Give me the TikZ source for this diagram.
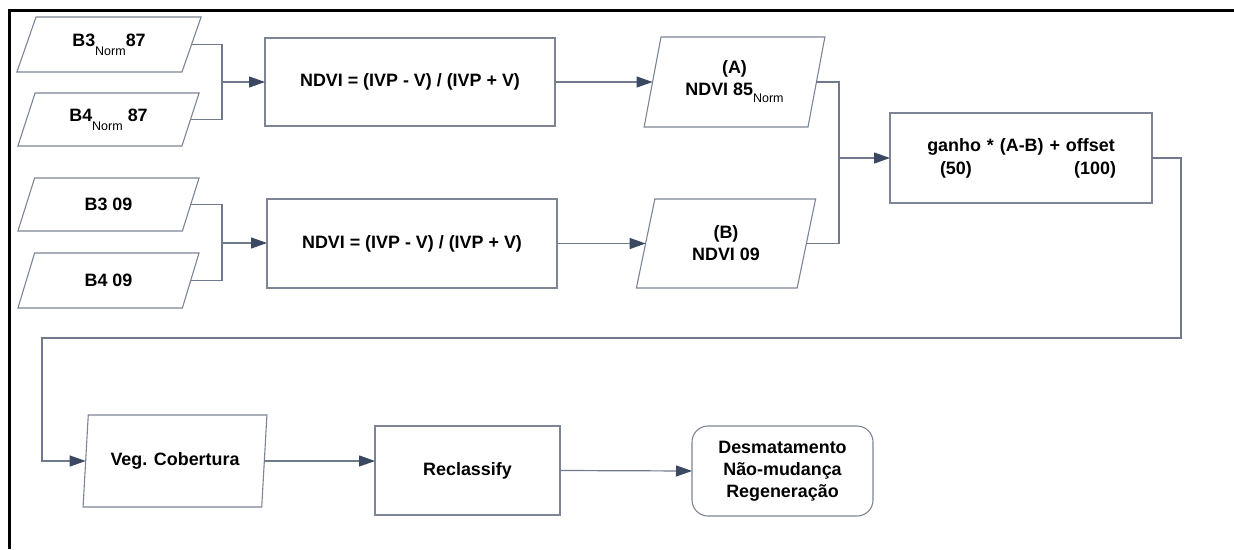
\documentclass[tikz,border=0pt]{standalone}
\usepackage{fontspec}
\setmainfont{Liberation Sans}
\usetikzlibrary{shapes.geometric,arrows.meta}
\definecolor{shapec}{RGB}{125,133,148}
\definecolor{linec}{RGB}{112,122,140}
\definecolor{tipc}{RGB}{58,72,98}
\newcommand\nrmsub[2][-8pt]{\raisebox{#1}{\fontsize{12.5}{12.5}\selectfont\mdseries #2}}
\begin{document}
\begin{tikzpicture}[x=1pt,y=-1pt,
  every node/.style={font=\fontsize{17.9}{22}\selectfont\bfseries, inner sep=0pt, outer sep=0pt},
  para/.style={draw=shapec, line width=1.1pt, trapezium, trapezium stretches=true, align=center},
  procbox/.style={draw=shapec, line width=1.1pt, rectangle, align=center},
  termbox/.style={draw=shapec, line width=1.1pt, rectangle, rounded corners=16pt, align=center},
  conn/.style={draw=linec, line width=1.2pt},
  arr/.style={draw=linec, line width=1.2pt, -{Triangle[length=16pt,width=11pt,color=tipc]}}
]
\useasboundingbox (0,0) rectangle (1234,549);
% frame
\draw[line width=3pt] (9.3,549) -- (9.3,10.7) -- (1234,10.7);

% inputs
\node[para, trapezium left angle=66, trapezium right angle=114, minimum width=186pt, minimum height=55pt] (b3n) at (109,44.5) {B3\nrmsub[-9pt]{Norm}87};
\node[para, trapezium left angle=67, trapezium right angle=113, minimum width=182pt, minimum height=53pt] (b4n) at (108.5,119.5) {B4\nrmsub[-9pt]{Norm} 87};
\node[para, trapezium left angle=67, trapezium right angle=113, minimum width=182pt, minimum height=53pt] (b309) at (108.5,204.5) {B3 09};
\node[para, trapezium left angle=67, trapezium right angle=113, minimum width=182pt, minimum height=55pt] (b409) at (108.5,280.5) {B4 09};

% NDVI boxes
\node[procbox, minimum width=290pt, minimum height=88pt] (nd1) at (410,82) {NDVI = (IVP - V) / (IVP + V)};
\node[procbox, minimum width=290pt, minimum height=89pt] (nd2) at (412,243.5) {NDVI = (IVP - V) / (IVP + V)};

% A and B
\node[para, trapezium left angle=75, trapezium right angle=105, minimum width=181pt, minimum height=90pt] (A) at (734.5,82) {(A)\\NDVI 85\nrmsub[-7pt]{Norm}};
\node[para, trapezium left angle=76, trapezium right angle=104, minimum width=180pt, minimum height=89pt] (B) at (726,243.5) {(B)\\NDVI 09};

% ganho
\node[procbox, minimum width=262pt, minimum height=90pt, text width=190pt] (gan) at (1021,158)
  {ganho * (A-B) + offset\\[1pt]\hspace*{14pt}(50)\hfill(100)\hspace*{11pt}};

% bottom row
\node[para, trapezium left angle=77, trapezium right angle=103, minimum width=184pt, minimum height=92pt] (veg) at (175,461) {Veg. Cobertura};
\node[procbox, minimum width=185pt, minimum height=89pt] (rec) at (467.5,470.5) {Reclassify};
\node[termbox, minimum width=181pt, minimum height=90pt] (out) at (782.5,471) {Desmatamento\\Não-mudança\\Regeneração};

% junctions
\coordinate (j1) at (222,82);
\coordinate (j2) at (222,243);
\coordinate (jab) at (839,158);
\coordinate (c1) at (1181,338);
\coordinate (c2) at (42,338);

% connectors
\draw[conn] (b3n.right side) -| (j1) |- (b4n.right side);
\draw[arr] (j1) -- (nd1.west);
\draw[conn] (b309.right side) -| (j2) |- (b409.right side);
\draw[arr] (j2) -- (j2 -| nd2.west);
\draw[arr] (nd1.east) -- (nd1.east -| A.left side);
\draw[arr] (nd2.east) -- (nd2.east -| B.left side);
\draw[conn] (A.right side) -| (jab) |- (B.right side);
\draw[arr] (jab) -- (gan.west);
\draw[arr] (gan.east) -| (c1) -- (c2) |- (veg.left side);
\draw[arr] (veg.right side) -- (veg.right side -| rec.west);
\draw[arr] (rec.east) -- (out.west);
\end{tikzpicture}
\end{document}
